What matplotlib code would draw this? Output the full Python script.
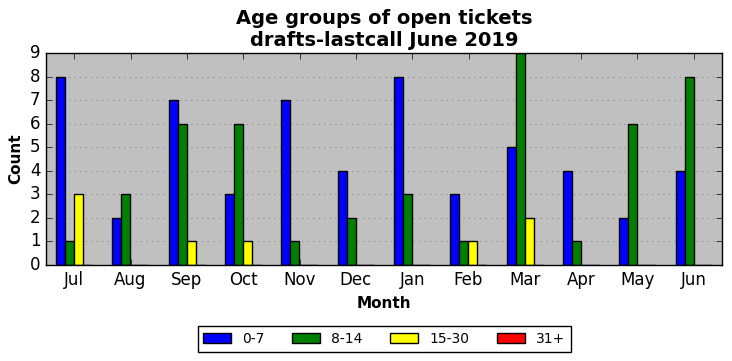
import numpy as np
import matplotlib

matplotlib.use("Agg")
import matplotlib.pyplot as plt

MONTHS = ["Jul", "Aug", "Sep", "Oct", "Nov", "Dec",
          "Jan", "Feb", "Mar", "Apr", "May", "Jun"]
AGE_GROUPS = ["0-7", "8-14", "15-30", "31+"]
COLORS = ["blue", "green", "yellow", "red"]

AGE_0_7 = [8, 2, 7, 3, 7, 4, 8, 3, 5, 4, 2, 4]
AGE_8_14 = [1, 3, 6, 6, 1, 2, 3, 1, 9, 1, 6, 8]
AGE_15_30 = [3, 0, 1, 1, 0, 0, 0, 1, 2, 0, 0, 0]
AGE_31_PLUS = [0, 0, 0, 0, 0, 0, 0, 0, 0, 0, 0, 0]

plt.style.use("classic")
plt.rcParams["font.family"] = ["DejaVu Sans"]

fig = plt.figure(figsize=(7.32, 3.61), dpi=100, facecolor="white")
ax = fig.add_axes([46 / 732, 1 - 265 / 361, 676 / 732, 212 / 361])
ax.set_facecolor("silver")

x = np.arange(len(MONTHS))
width = 0.16
series = [AGE_0_7, AGE_8_14, AGE_15_30, AGE_31_PLUS]
for i, (label, values, color) in enumerate(zip(AGE_GROUPS, series, COLORS)):
    ax.bar(x - 0.325 + i * width, values, width, align="edge",
           color=color, edgecolor="black", linewidth=1, label=label, zorder=2)

ax.set_xlim(-0.5, len(MONTHS) - 0.5)
ax.set_ylim(0, 9)
ax.set_xticks(x)
ax.set_xticklabels(MONTHS)
ax.set_yticks(range(10))
ax.tick_params(labelsize=12)
ax.yaxis.grid(True, linestyle=":", color="gray", zorder=0)
ax.set_axisbelow(True)

ax.set_title("Age groups of open tickets\ndrafts-lastcall June 2019",
             fontsize=14, fontweight="bold", linespacing=1.2)
ax.set_xlabel("Month", fontsize=11, fontweight="bold")
ax.set_ylabel("Count", fontsize=11, fontweight="bold")

ax.legend(loc="upper center", bbox_to_anchor=(0.5, -0.29), ncol=4,
          fontsize=10, frameon=True, fancybox=False, borderaxespad=0,
          handlelength=2, columnspacing=2)

fig.savefig("out.png", dpi=100, facecolor="white")
